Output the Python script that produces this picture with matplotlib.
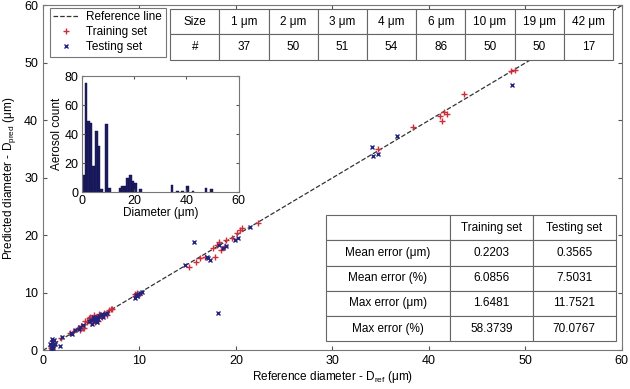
import numpy as np
import matplotlib
matplotlib.use("Agg")
from matplotlib import pyplot as plt

plt.rcParams['font.family'] = ['Liberation Sans', 'DejaVu Sans']
plt.rcParams['mathtext.fontset'] = 'custom'
plt.rcParams['mathtext.rm'] = 'Liberation Sans'
plt.rcParams['font.size'] = 8.5

# scatter: training set (red +)
train_x = [0.9, 1.1, 1.0, 1.2, 0.8, 1.9, 2.8, 3.1, 3.6, 3.8, 4.0, 4.3, 4.2,
           4.4, 4.6, 4.8, 4.9, 5.0, 5.2, 5.3, 5.5, 5.7, 5.9, 6.1, 6.3, 6.6, 6.9, 7.1, 7.2,
           5.4, 5.8, 6.0,
           9.5, 9.6, 9.8, 10.0,
           15.1, 15.9, 16.3, 16.8, 17.6, 17.8, 18.0, 18.3, 18.5, 18.9, 19.0, 19.6,
           20.1, 20.4, 20.6, 22.3,
           34.7, 38.4, 41.2, 41.4, 41.6, 41.9, 43.6, 48.5, 48.9]
train_y = [1.2, 0.8, 1.6, 1.0, 0.4, 2.2, 3.0, 3.3, 3.9, 3.5, 4.3, 3.9, 3.9,
           5.2, 5.0, 5.6, 5.9, 4.7, 5.4, 6.2, 5.9, 5.2, 6.1, 5.8, 6.6, 6.2, 7.0, 7.3, 7.3,
           5.0, 6.3, 6.0,
           9.8, 9.5, 10.0, 9.7,
           14.6, 15.4, 16.0, 16.3, 17.8, 16.3, 18.3, 18.9, 17.5, 18.1, 19.2, 19.5,
           20.4, 21.0, 21.3, 22.2,
           35.0, 38.9, 40.7, 39.9, 41.4, 41.2, 44.6, 48.6, 48.8]

# scatter: testing set (blue x)
test_x = [0.8, 0.9, 1.0, 1.1, 1.2, 0.7, 1.3, 1.0, 1.8, 2.0, 0.9, 1.1,
          2.9, 3.0, 3.3, 3.7, 3.9, 4.2,
          4.8, 5.0, 5.1, 5.3, 5.5, 5.6, 5.6, 5.8, 6.0, 6.2, 6.4, 6.6,
          5.2, 5.4, 5.7, 6.1,
          9.6, 9.7, 9.9, 10.1, 10.3, 9.8,
          14.7, 17.0, 17.1, 17.3, 18.3, 18.7, 19.0, 19.9, 20.2, 21.5,
          15.7, 18.2,
          34.1, 34.2, 34.7, 36.7, 48.6, 51.8]
test_y = [0.5, 1.0, 1.4, 0.7, 1.8, 1.1, 1.2, 2.0, 0.8, 2.3, 0.3, 0.5,
          3.1, 2.8, 3.5, 3.8, 4.1, 4.4,
          5.1, 5.3, 4.6, 5.5, 5.6, 5.9, 4.9, 6.0, 6.2, 5.9, 6.3, 6.5,
          5.8, 5.2, 5.5, 6.4,
          9.2, 9.6, 9.9, 10.0, 10.2, 9.4,
          14.9, 16.3, 16.0, 15.7, 18.3, 17.8, 18.1, 19.2, 19.5, 21.5,
          18.9, 6.6,
          35.3, 33.9, 34.2, 37.3, 46.2, 51.2]

ref_line = [0, 60]

# inset histogram (1 um bins)
hist_left = [0, 1, 2, 3, 4, 5, 6, 7, 9, 10, 14, 15, 16, 17, 18, 19, 20, 22,
             34, 36, 38, 40, 42, 47, 49]
hist_count = [12, 75, 49, 48, 18, 42, 32, 2, 47, 3, 3, 4, 4, 10, 12, 8, 6, 2,
              5, 1, 1, 4, 1, 3, 2]

# tables
sizes = ['1 μm', '2 μm', '3 μm', '4 μm', '6 μm', '10 μm', '19 μm', '42 μm']
counts = ['37', '50', '51', '54', '86', '50', '50', '17']
metrics = ['Mean error (μm)', 'Mean error (%)', 'Max error (μm)', 'Max error (%)']
train_err = ['0.2203', '6.0856', '1.6481', '58.3739']
test_err = ['0.3565', '7.5031', '11.7521', '70.0767']

red = '#cc2e3a'
blue = '#24247e'
edge = '#666666'

fig = plt.figure(figsize=(6.3, 3.89), dpi=100)
ax = fig.add_axes([0.068, 0.099, 0.919, 0.887])

ax.plot(ref_line, ref_line, '--', color='#333333', lw=0.9, label='Reference line', zorder=1)
ax.plot(train_x, train_y, '+', color=red, ms=4.5, mew=1.0, label='Training set', zorder=2)
ax.plot(test_x, test_y, 'x', color=blue, ms=3.2, mew=1.0, label='Testing set', zorder=3)

ax.set_xlim(0, 60)
ax.set_ylim(0, 60)
ax.set_xticks(range(0, 61, 10))
ax.set_yticks(range(0, 61, 10))
ax.tick_params(direction='in', top=True, right=True, length=3, labelsize=9, colors='#555555', labelcolor='black')
for s in ax.spines.values():
    s.set_color('#777777')
ax.set_xlabel('Reference diameter - D$_{\\rm ref}$ (μm)', fontsize=8.5, labelpad=1)
ax.set_ylabel('Predicted diameter - D$_{\\rm pred}$ (μm)', fontsize=8.5, labelpad=4)

leg = ax.legend(loc='upper left', bbox_to_anchor=(0.012, 0.993), borderaxespad=0,
                fancybox=False, edgecolor='#777777', framealpha=1, fontsize=8.5,
                handlelength=2.2, handletextpad=0.6, labelspacing=0.25,
                borderpad=0.3)
leg.get_frame().set_linewidth(0.8)

# inset
ins = fig.add_axes([0.130, 0.506, 0.249, 0.298])
ins.bar(hist_left, hist_count, width=1, align='edge', color='#1c1c64', edgecolor='#0e0e40', lw=0.3)
ins.set_xlim(0, 60)
ins.set_ylim(0, 80)
ins.set_xticks([0, 20, 40, 60])
ins.set_yticks([0, 20, 40, 60, 80])
ins.tick_params(direction='in', top=True, right=True, length=2.5, labelsize=9, colors='#555555', labelcolor='black')
ins.tick_params(axis='x', pad=2)
ins.tick_params(axis='y', pad=2.5)
for s in ins.spines.values():
    s.set_color('#777777')
ins.set_xlabel('Diameter (μm)', fontsize=8.5, labelpad=0)
ins.set_ylabel('Aerosol count', fontsize=8.5, labelpad=1)

# size count table
t1ax = fig.add_axes([0.270, 0.846, 0.703, 0.131])
t1ax.axis('off')
t1 = t1ax.table(cellText=[['Size'] + sizes, ['#'] + counts], cellLoc='center', bbox=[0, 0, 1, 1])
t1.auto_set_font_size(False)
t1.set_fontsize(8.5)
for c in t1.get_celld().values():
    c.set_edgecolor(edge)
    c.set_linewidth(0.8)

# error table
t2ax = fig.add_axes([0.517, 0.123, 0.460, 0.324])
t2ax.axis('off')
rows = [['', 'Training set', 'Testing set']]
for m, a, b in zip(metrics, train_err, test_err):
    rows.append([m, a, b])
t2 = t2ax.table(cellText=rows, cellLoc='center', bbox=[0, 0, 1, 1],
                colWidths=[0.43, 0.285, 0.285])
t2.auto_set_font_size(False)
t2.set_fontsize(8.5)
for c in t2.get_celld().values():
    c.set_edgecolor(edge)
    c.set_linewidth(0.8)

plt.savefig('out.png', dpi=100)
